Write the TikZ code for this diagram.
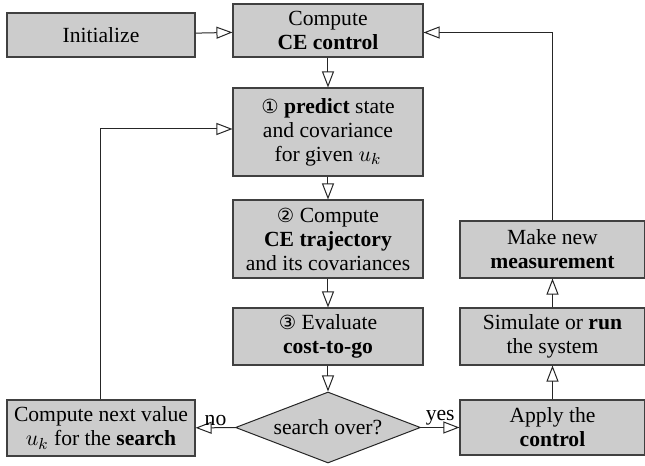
\documentclass[tikz,border=0pt]{standalone}
\usepackage{fontspec}
\setmainfont{Liberation Serif}[Ligatures=TeX]
\newfontfamily\circfont[Scale=0.9]{DejaVu Sans}
\newcommand\cnum[1]{{\circfont #1}}
\usetikzlibrary{arrows.meta,shapes.geometric}
\begin{document}
\begin{tikzpicture}[x=1pt,y=1pt,
  blk/.style={draw=black!75,line width=0.55pt,fill=black!20,align=center,inner sep=1pt,
    font=\rmfamily\fontsize{10.8}{12}\selectfont},
  dec/.style={diamond,draw=black!85,line width=0.5pt,fill=black!20,align=center,inner sep=0pt,
    aspect=2.6,minimum width=92.5pt,minimum height=35.5pt,font=\rmfamily\fontsize{10.8}{12}\selectfont},
  conn/.style={draw=black!85,line width=0.5pt,-{Triangle[open,length=8pt,width=6pt]}},
  lbl/.style={font=\rmfamily\fontsize{10.8}{12}\selectfont,inner sep=1pt}]
\useasboundingbox (0,0) rectangle (322.5,-233);
\node[blk,minimum width=94pt,minimum height=22pt] (init) at (50.5,-17.5) {Initialize};
\node[blk,minimum width=95pt,minimum height=26.5pt] (cectrl) at (164,-15.25) {Compute\\\textbf{CE control}};
\node[blk,minimum width=95pt,minimum height=44pt] (pred) at (164,-66) {\cnum{①} \textbf{predict} state\\and covariance\\for given $u_k$};
\node[blk,minimum width=95pt,minimum height=39pt] (traj) at (164,-119.5) {\cnum{②} Compute\\\textbf{CE trajectory}\\and its covariances};
\node[blk,minimum width=95pt,minimum height=28.5pt] (eval) at (164,-168.25) {\cnum{③} Evaluate\\\textbf{cost-to-go}};
\node[dec] (dia) at (164,-213.75) {search over?};
\node[blk,minimum width=94pt,minimum height=28pt] (next) at (50.5,-214) {Compute next value\\$u_k$ for the \textbf{search}};
\node[blk,minimum width=92.5pt,minimum height=27.5pt] (apply) at (276.25,-213.75) {Apply the\\\textbf{control}};
\node[blk,minimum width=92.5pt,minimum height=28.5pt] (sim) at (276.25,-168.25) {Simulate or \textbf{run}\\the system};
\node[blk,minimum width=92.5pt,minimum height=28.5pt] (meas) at (276.25,-124.75) {Make new\\\textbf{measurement}};
\draw[conn] (init) -- (cectrl);
\draw[conn] (cectrl) -- (pred);
\draw[conn] (pred) -- (traj);
\draw[conn] (traj) -- (eval);
\draw[conn] (eval) -- (dia);
\draw[conn] (dia) -- node[lbl,above] {no} (next);
\draw[conn] (dia) -- node[lbl,above] {yes} (apply);
\draw[conn] (apply) -- (sim);
\draw[conn] (sim) -- (meas);
\draw[conn] (meas.north) |- ([yshift=-1pt]cectrl.east);
\draw[conn] (next.north) |- ([yshift=1.5pt]pred.west);
\end{tikzpicture}
\end{document}
